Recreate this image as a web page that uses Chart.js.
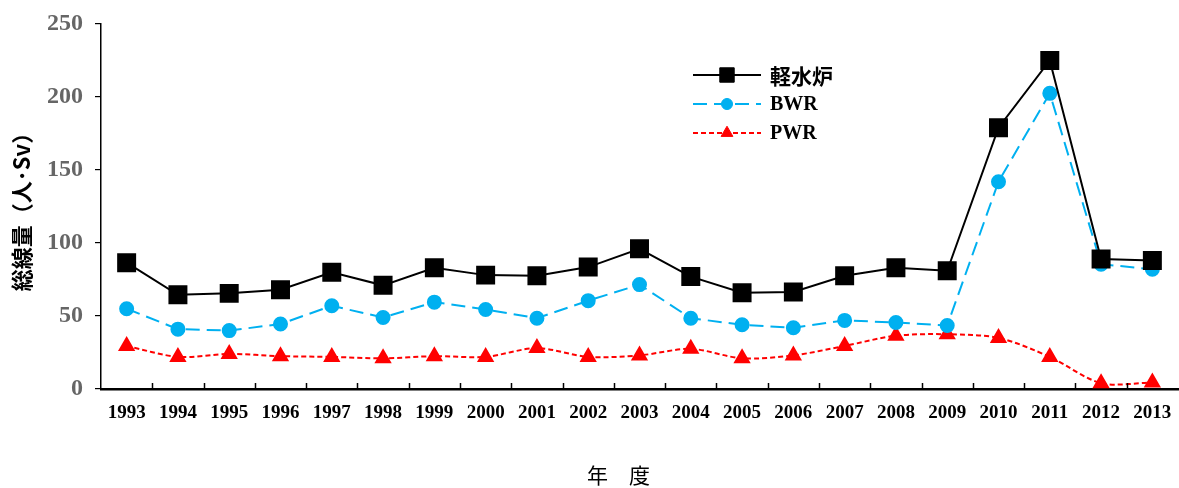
<!DOCTYPE html>
<html lang="ja">
<head>
<meta charset="utf-8">
<title>総線量の推移</title>
<script src="https://cdn.jsdelivr.net/npm/chart.js@4/dist/chart.umd.min.js"></script>
<style>
  html, body { margin: 0; padding: 0; background: #fff; }
  #wrap { width: 1179px; height: 488px; position: relative; }
</style>
</head>
<body>
<div id="wrap"><canvas id="c"></canvas></div>
<script>
// 年度
const years = ['1993','1994','1995','1996','1997','1998','1999','2000','2001','2002','2003',
               '2004','2005','2006','2007','2008','2009','2010','2011','2012','2013'];
// 総線量（人・Sv）
const lightWater = [86.5, 64.5, 65.5, 68, 80, 71, 83, 78, 77.5, 83.5, 96, 77, 66, 66.5, 77.5, 83, 81, 179, 225, 89, 88];
const bwr        = [55, 41, 40, 44.5, 57, 49, 59.5, 54.5, 48.5, 60.5, 71.5, 48.5, 44, 42, 47, 45.5, 43.5, 142, 202.5, 85.5, 82];
const pwr        = [29.5, 22, 24, 22.5, 22, 21, 22.5, 22, 28, 22, 23, 27.5, 21, 23, 29.5, 36.5, 37.5, 35, 22, 4, 4.5];
const yTicks     = [0, 50, 100, 150, 200, 250];
const seriesNames = ['軽水炉', 'BWR', 'PWR'];

const SERIF = '"Liberation Serif", "DejaVu Serif", serif';
const GOTHIC = '"Noto Sans CJK JP", "Noto Sans", sans-serif';

// inward ticks on the category axis, at the boundaries between years
const xInnerTicks = {
  id: 'xInnerTicks',
  afterDatasetsDraw(chart) {
    const x = chart.scales.x, ctx = chart.ctx;
    const bottom = chart.chartArea.bottom;
    ctx.save();
    ctx.strokeStyle = '#000';
    ctx.lineWidth = 1.5;
    for (let i = 0; i < years.length - 1; i++) {
      const px = Math.round((x.getPixelForTick(i) + x.getPixelForTick(i + 1)) / 2) + 0.5;
      ctx.beginPath();
      ctx.moveTo(px, bottom);
      ctx.lineTo(px, bottom - 6);
      ctx.stroke();
    }
    ctx.restore();
  }
};

// legend drawn as line + marker + label
const lineLegend = {
  id: 'lineLegend',
  afterDraw(chart, args, opts) {
    const ctx = chart.ctx;
    const x0 = opts.x, x1 = opts.x + opts.lineLength;
    chart.data.datasets.forEach((ds, i) => {
      const y = opts.y + i * opts.rowHeight;
      ctx.save();
      ctx.strokeStyle = ds.borderColor;
      ctx.lineWidth = ds.borderWidth;
      ctx.setLineDash(ds.borderDash || []);
      ctx.beginPath();
      ctx.moveTo(x0, y);
      ctx.lineTo(x1, y);
      ctx.stroke();
      ctx.setLineDash([]);
      const cx = (x0 + x1) / 2;
      const style = { pointStyle: ds.pointStyle, radius: ds.pointRadius * 0.85, borderWidth: 1, rotation: 0 };
      ctx.fillStyle = ds.pointBackgroundColor;
      ctx.strokeStyle = ds.pointBorderColor;
      ctx.lineWidth = 1;
      Chart.helpers.drawPoint(ctx, style, cx, y);
      ctx.fillStyle = '#000';
      ctx.textBaseline = 'middle';
      ctx.textAlign = 'left';
      ctx.font = i === 0 ? 'bold 21px ' + GOTHIC : 'bold 20px ' + SERIF;
      ctx.fillText(ds.label, x1 + 9, y + 1);
      ctx.restore();
    });
  }
};

new Chart(document.getElementById('c'), {
  type: 'line',
  data: {
    labels: years,
    datasets: [
      {
        label: seriesNames[0],
        data: lightWater,
        borderColor: '#000000',
        borderWidth: 2,
        pointStyle: 'rect',
        pointRadius: 12,
        pointBackgroundColor: '#000000',
        pointBorderColor: '#000000',
        tension: 0
      },
      {
        label: seriesNames[1],
        data: bwr,
        borderColor: '#00B0F0',
        borderWidth: 2,
        borderDash: [14, 7],
        pointStyle: 'circle',
        pointRadius: 6.5,
        pointBackgroundColor: '#00B0F0',
        pointBorderColor: '#00B0F0',
        tension: 0
      },
      {
        label: seriesNames[2],
        data: pwr,
        borderColor: '#FF0000',
        borderWidth: 2,
        borderDash: [5, 3],
        pointStyle: 'triangle',
        pointRadius: 8,
        pointBackgroundColor: '#FF0000',
        pointBorderColor: '#FF0000',
        tension: 0.3
      }
    ]
  },
  options: {
    responsive: true,
    maintainAspectRatio: false,
    animation: false,
    layout: { autoPadding: false, padding: { top: 24, right: 1, left: 0, bottom: 0 } },
    plugins: {
      legend: { display: false },
      tooltip: { enabled: false },
      lineLegend: { x: 693, y: 75, lineLength: 68, rowHeight: 29 }
    },
    scales: {
      x: {
        type: 'category',
        offset: true,
        grid: { display: false, drawTicks: false },
        border: { display: true, color: '#000', width: 2.5 },
        ticks: {
          color: '#000',
          font: { family: SERIF, size: 19, weight: 'bold' },
          padding: 13,
          maxRotation: 0,
          autoSkip: false
        },
        title: {
          display: true,
          text: '年　度　　',
          color: '#000',
          font: { family: GOTHIC, size: 21 },
          padding: { top: 0, bottom: 0 }
        },
        afterFit(scale) {
          scale.height = 99;
          scale.paddingLeft = 0;
          scale.paddingRight = 0;
        }
      },
      y: {
        min: 0,
        max: 250,
        afterBuildTicks(scale) { scale.ticks = yTicks.map(v => ({ value: v })); },
        grid: { drawOnChartArea: false, drawTicks: true, tickLength: 6, color: '#000', lineWidth: 1.2 },
        border: { display: true, color: '#000', width: 1.5 },
        ticks: {
          color: '#666666',
          font: { family: SERIF, size: 24, weight: 'bold' },
          padding: 12
        },
        title: {
          display: true,
          text: '総線量（人･Sv）',
          color: '#000',
          font: { family: GOTHIC, size: 22, weight: 'bold' },
          padding: { top: 8, bottom: 0 }
        },
        afterFit(scale) {
          scale.width = 101;
          scale.paddingTop = 0;
          scale.paddingBottom = 0;
        }
      }
    }
  },
  plugins: [xInnerTicks, lineLegend]
});
</script>
</body>
</html>
